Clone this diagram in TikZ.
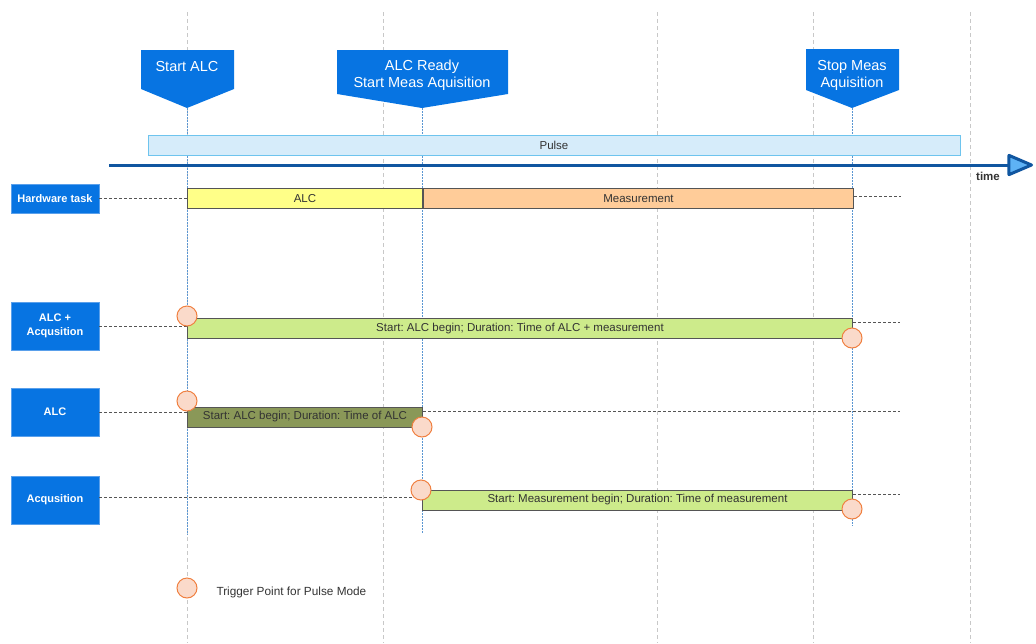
\documentclass[tikz,border=0pt]{standalone}
\usepackage{fontspec}
\setmainfont{Liberation Sans}
\usetikzlibrary{arrows.meta}
\frenchspacing

\definecolor{callblue}{RGB}{7,116,226}
\definecolor{boxedge}{RGB}{90,160,235}
\definecolor{pulsefill}{RGB}{214,236,250}
\definecolor{pulseedge}{RGB}{110,196,238}
\definecolor{axisblue}{RGB}{16,86,160}
\definecolor{tipblue}{RGB}{94,178,245}
\definecolor{alcyellow}{RGB}{255,255,136}
\definecolor{measorange}{RGB}{255,204,153}
\definecolor{lightgreen}{RGB}{205,235,139}
\definecolor{darkgreen}{RGB}{138,152,88}
\definecolor{trigfill}{RGB}{250,218,202}
\definecolor{trigedge}{RGB}{240,128,64}
\definecolor{gridgray}{RGB}{200,200,200}
\definecolor{markblue}{RGB}{90,150,210}
\definecolor{txtgray}{RGB}{51,51,51}
\definecolor{baredge}{RGB}{85,85,85}

\begin{document}
\begin{tikzpicture}[x=1pt,y=-1pt]
    \tikzset{every node/.style={font=\fontsize{11.5}{13}\selectfont, text=txtgray}}
    \tikzset{taskbox/.style={draw=boxedge, fill=callblue, text=white, align=center, inner sep=0pt,
        minimum width=88pt, minimum height=48pt, font=\bfseries\fontsize{11}{13.5}\selectfont}}
    \tikzset{bar/.style={draw=baredge, line width=1pt, minimum height=20pt, inner sep=0pt, anchor=west}}
    \tikzset{trig/.style={draw=trigedge, fill=trigfill, circle, line width=1pt, minimum size=20pt, inner sep=0pt}}
    \tikzset{lead/.style={baredge, line width=1pt, dash pattern=on 3pt off 2pt}}
    \tikzset{gridline/.style={gridgray, line width=1pt, dash pattern=on 4pt off 3pt}}
    \tikzset{marker/.style={markblue, line width=0.8pt, dash pattern=on 1.5pt off 1.5pt}}
    \tikzset{callout/.style={fill=callblue}}
    \tikzset{calltext/.style={text=white, align=center, font=\fontsize{14.5}{17}\selectfont}}

    \useasboundingbox (0,0) rectangle (1036,643);

    % time grid
    \foreach \x in {187,383,657,813,970}
        \draw[gridline] (\x,12) -- (\x,643);
    \draw[marker] (187,108) -- (187,535);
    \draw[marker] (422,108) -- (422,533);
    \draw[marker] (852,108) -- (852,526);

    % events
    \fill[callout] (141,50) -- (234,50) -- (234,89) -- (187,108) -- (141,89) -- cycle;
    \fill[callout] (337,50) -- (508,50) -- (508,94) -- (422,108) -- (337,94) -- cycle;
    \fill[callout] (806,49) -- (899,49) -- (899,90) -- (852,108) -- (806,90) -- cycle;
    \node[calltext] (startalc) at (187,67) {Start ALC};
    \node[calltext] (alcready) at (422,75.5) {ALC Ready\\Start Meas Aquisition};
    \node[calltext] (stopmeas) at (852,75.5) {Stop Meas\\Aquisition};

    \node[draw=pulseedge, fill=pulsefill, line width=1pt, minimum width=812pt, minimum height=20pt, inner sep=0pt] (pulse) at (554,145) {Pulse};

    \coordinate (t0) at (109,165);
    \coordinate (t1) at (1033,165);
    \draw[axisblue, line width=3pt, -{Triangle[length=28pt, width=23pt, fill=tipblue, round]}] (t0) -- (t1);
    \node[font=\bfseries\fontsize{11.5}{13}\selectfont] (time) at (988,176) {time};

    % hardware task
    \node[taskbox, minimum height=29pt] (hw) at (55,198.5) {Hardware task};
    \node[bar, fill=alcyellow, minimum width=235pt] (hwalc) at (187,198.5) {ALC};
    \node[bar, fill=measorange, minimum width=430pt] (hwmeas) at (hwalc.east) {Measurement};
    \coordinate (hwend) at (901,196);
    \draw[lead] (hw) -- (hwalc);
    \draw[lead] (hwmeas.east |- hwend) -- (hwend);

    % ALC + acqusition
    \node[taskbox] (both) at (55,326) {ALC +\\Acqusition};
    \node[bar, fill=lightgreen, minimum width=665pt] (bothbar) at (187,328.5) {Start: ALC begin; Duration: Time of ALC + measurement};
    \coordinate (bothend) at (900,322);
    \draw[lead] (both) -- (both -| bothbar.west);
    \draw[lead] (bothbar.east |- bothend) -- (bothend);

    % ALC
    \node[taskbox] (alc) at (55,412) {ALC};
    \node[bar, fill=darkgreen, minimum width=235pt] (alcbar) at (187,417) {Start: ALC begin; Duration: Time of ALC};
    \coordinate (alcend) at (900,411);
    \draw[lead] (alc) -- (alc -| alcbar.west);
    \draw[lead] (alcbar.east |- alcend) -- (alcend);

    % acqusition
    \node[taskbox] (acq) at (55,500) {Acqusition};
    \node[bar, fill=lightgreen, minimum width=430pt] (acqbar) at (422,500) {Start: Measurement begin; Duration: Time of measurement};
    \coordinate (acqend) at (900,494);
    \draw[lead] (acq.east |- 0,497) -- (acqbar.west |- 0,497);
    \draw[lead] (acqbar.east |- acqend) -- (acqend);

    % trigger points
    \node[trig] (tr1) at (187,316) {};
    \node[trig] (tr2) at (852,338) {};
    \node[trig] (tr3) at (187,401) {};
    \node[trig] (tr4) at (422,427) {};
    \node[trig] (tr5) at (421,490) {};
    \node[trig] (tr6) at (852,509) {};

    \node[trig] (legend) at (187,588) {};
    \node[anchor=west, font=\fontsize{11.8}{13}\selectfont] (legendtext) at (213,592) {Trigger Point for Pulse Mode};
\end{tikzpicture}
\end{document}
